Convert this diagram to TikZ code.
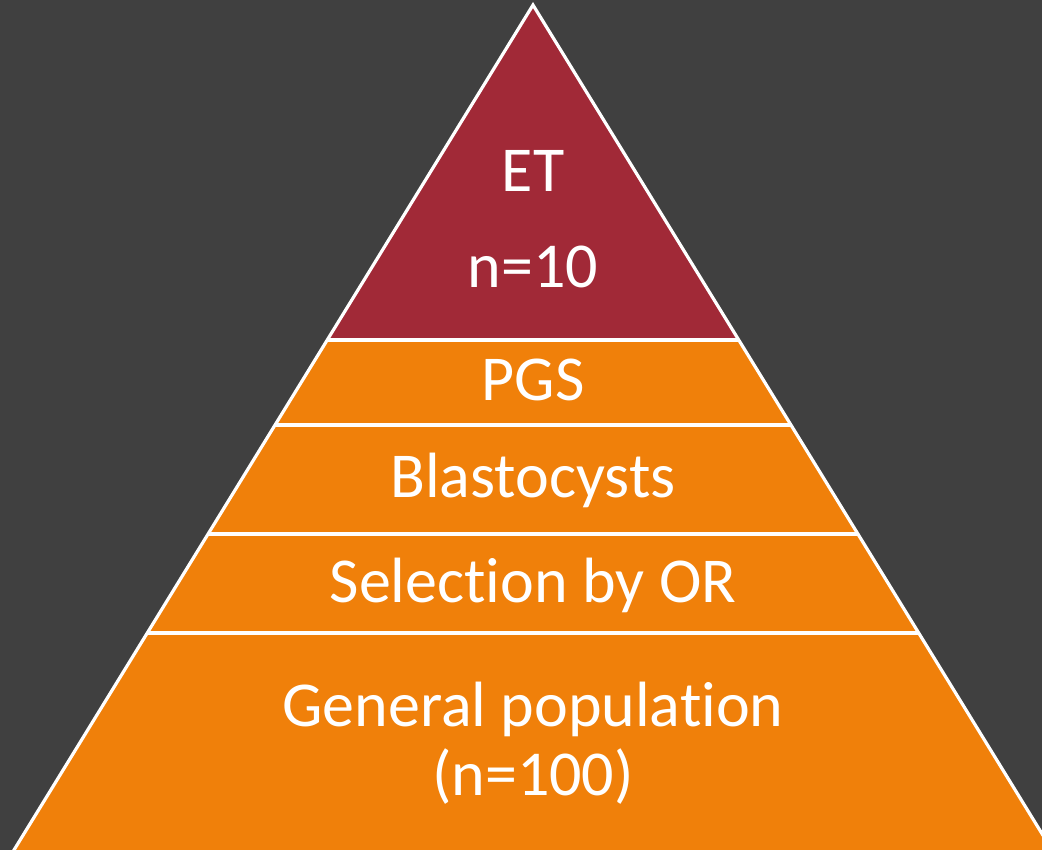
\documentclass[tikz,border=0pt]{standalone}
\usepackage{fontspec}
\setmainfont{Carlito}[Ligatures=NoCommon]
\definecolor{slate}{HTML}{404040}
\definecolor{wine}{HTML}{A12937}
\definecolor{amber}{HTML}{F0800A}

\begin{document}
\begin{tikzpicture}[x=1pt, y=-1pt, font=\fontsize{64}{72}\selectfont,
    tier/.style={text=white, align=center, anchor=base, inner sep=0pt},
    rim/.style={white, line width=3.2pt}]
            % Background
            \useasboundingbox (0,0) rectangle (1042,850);
            \fill[slate] (0,0) rectangle (1042,850);
            \clip (0,0) rectangle (1042,850);

            % Pyramid
            \coordinate (apex) at (533,5);
            \coordinate (baseL) at (10.3,856);
            \coordinate (baseR) at (1055.7,856);
            \fill[amber] (apex) -- (baseL) -- (baseR) -- cycle;
            \begin{scope}
                \clip (apex) -- (baseL) -- (baseR) -- cycle;
                \fill[wine] (0,0) rectangle (1042,340);
                \foreach \y in {340,425,534,633}
                    \draw[rim] (0,\y) -- (1042,\y);
            \end{scope}
            \draw[rim, line join=miter] (apex) -- (baseL) -- (baseR) -- cycle;

            % Nodes
            \node[tier] (et) at (533,192) {ET};
            \node[tier] (ten) at (533,288) {n=10};
            \node[tier] (pgs) at (533,400) {PGS};
            \node[tier] (blast) at (533,497) {Blastocysts};
            \node[tier] (select) at (533,602) {Selection by OR};
            \node[tier] (general) at (533,726) {General population};
            \node[tier] (hundred) at (533,795) {(n=100)};
        \end{tikzpicture}
\end{document}
